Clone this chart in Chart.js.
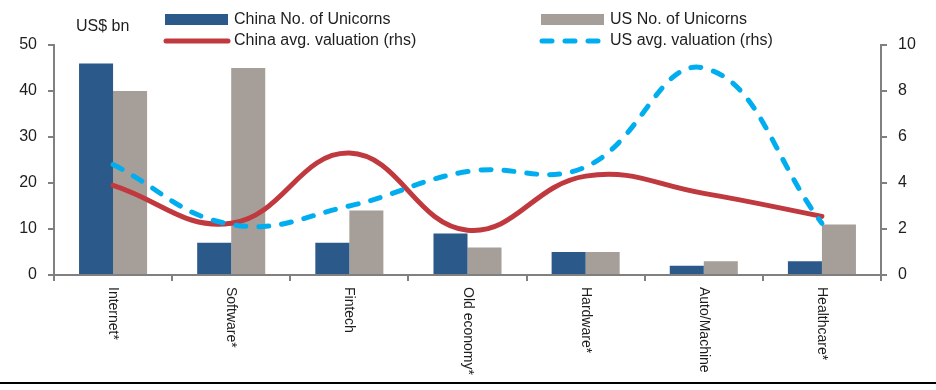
<!DOCTYPE html>
<html><head><meta charset="utf-8">
<script src="https://cdn.jsdelivr.net/npm/chart.js@4.4.1/dist/chart.umd.min.js"></script>
<style>
html,body{margin:0;padding:0;background:#fff}
#wrap{position:relative;width:936px;height:390px;overflow:hidden}
#sep{position:absolute;left:0;top:382px;width:936px;height:2px;background:#000}
</style></head>
<body><div id="wrap"><canvas id="c" width="936" height="390"></canvas><div id="sep"></div></div>
<script>
const categories = ['Internet*','Software*','Fintech','Old economy*','Hardware*','Auto/Machine','Healthcare*'];
const chinaUnicorns = [46,7,7,9,5,2,3];
const usUnicorns = [40,45,14,6,5,3,11];
const chinaAvgValuation = [3.9,2.25,5.3,1.95,4.3,3.55,2.55];
const usAvgValuation = [4.8,2.2,3.0,4.5,4.7,9.0,2.25];
const leftAxis = {min:0,max:50,step:10,title:'US$ bn'};
const rightAxis = {min:0,max:10,step:2};
const seriesNames = ['China No. of Unicorns','US No. of Unicorns','China avg. valuation (rhs)','US avg. valuation (rhs)'];

const FONT = '"Liberation Sans", Arial, sans-serif';
const TXT = '#1e1e1e';
const AX = '#808080';
const C_CN = '#2b5989', C_US = '#a69e98', C_RED = '#c0393e', C_BLUE = '#00aeef';
const DASH = [10,13];

const legendPlugin = {
  id:'customLegend',
  afterDraw(chart){
    const ctx = chart.ctx;
    const ds = chart.data.datasets;
    ctx.save();
    ctx.font = '16px ' + FONT;
    ctx.fillStyle = TXT;
    ctx.textBaseline = 'middle';
    ctx.textAlign = 'left';
    ctx.fillText(leftAxis.title, 76, 27);
    // row 1: bars
    const items = [
      {x:165, y:20, type:'box', ds:ds[0]},
      {x:541, y:20, type:'box', ds:ds[1]},
      {x:165, y:41, type:'line', ds:ds[2]},
      {x:541, y:41, type:'dash', ds:ds[3]}
    ];
    items.forEach(it=>{
      if(it.type==='box'){
        ctx.fillStyle = it.ds.backgroundColor;
        ctx.fillRect(it.x, it.y-6, 63, 11);
      } else {
        ctx.strokeStyle = it.ds.borderColor;
        ctx.lineWidth = 5;
        ctx.lineCap = 'round';
        ctx.setLineDash(it.type==='dash'?DASH:[]);
        ctx.beginPath();
        ctx.moveTo(it.x+1, it.y); ctx.lineTo(it.x+(it.type==='dash'?57:63), it.y);
        ctx.stroke();
        ctx.setLineDash([]);
      }
      ctx.fillStyle = TXT;
      ctx.fillText(it.ds.label, it.x+69, it.y);
    });
    // rotated category labels
    const xs = chart.scales.x;
    ctx.font = '14px ' + FONT;
    chart.data.labels.forEach((lab,i)=>{
      const x = xs.getPixelForValue(i);
      ctx.save();
      ctx.translate(x, xs.top + 12);
      ctx.rotate(Math.PI/2);
      ctx.textAlign = 'left';
      ctx.textBaseline = 'middle';
      ctx.fillText(lab, 0, 0);
      ctx.restore();
    });
    ctx.restore();
  }
};

new Chart(document.getElementById('c'), {
  data:{
    labels:categories,
    datasets:[
      {type:'bar', label:seriesNames[0], data:chinaUnicorns, backgroundColor:C_CN, yAxisID:'y', order:2, barPercentage:1, categoryPercentage:0.576},
      {type:'bar', label:seriesNames[1], data:usUnicorns, backgroundColor:C_US, yAxisID:'y', order:2, barPercentage:1, categoryPercentage:0.576},
      {type:'line', label:seriesNames[2], data:chinaAvgValuation, borderColor:C_RED, backgroundColor:C_RED, borderWidth:5, pointRadius:0, tension:0.42, yAxisID:'y1', order:1, borderCapStyle:'round', fill:false},
      {type:'line', label:seriesNames[3], data:usAvgValuation, borderColor:C_BLUE, backgroundColor:C_BLUE, borderWidth:5, pointRadius:0, tension:0.42, yAxisID:'y1', order:0, borderDash:DASH, borderCapStyle:'round', fill:false}
    ]
  },
  options:{
    responsive:false, animation:false,
    layout:{padding:{top:45,left:0,right:0,bottom:0}},
    plugins:{legend:{display:false}, tooltip:{enabled:false}},
    scales:{
      x:{
        offset:true,
        grid:{display:true, drawOnChartArea:false, drawTicks:true, tickLength:6, color:AX, lineWidth:2, offset:true},
        border:{display:true, color:AX, width:2},
        ticks:{display:false},
        afterFit(s){ s.height = 115; }
      },
      y:{
        position:'left', min:leftAxis.min, max:leftAxis.max,
        ticks:{stepSize:leftAxis.step, font:{family:FONT, size:16}, color:TXT, padding:11},
        grid:{drawOnChartArea:false, drawTicks:true, tickLength:6, color:AX, lineWidth:2},
        border:{display:true, color:AX, width:2},
        afterFit(s){ s.width = 54; }
      },
      y1:{
        position:'right', min:rightAxis.min, max:rightAxis.max,
        ticks:{stepSize:rightAxis.step, font:{family:FONT, size:16}, color:TXT, padding:11},
        grid:{drawOnChartArea:false, drawTicks:true, tickLength:6, color:AX, lineWidth:2},
        border:{display:true, color:AX, width:2},
        afterFit(s){ s.width = 55; }
      }
    }
  },
  plugins:[legendPlugin]
});
</script>
</body></html>
